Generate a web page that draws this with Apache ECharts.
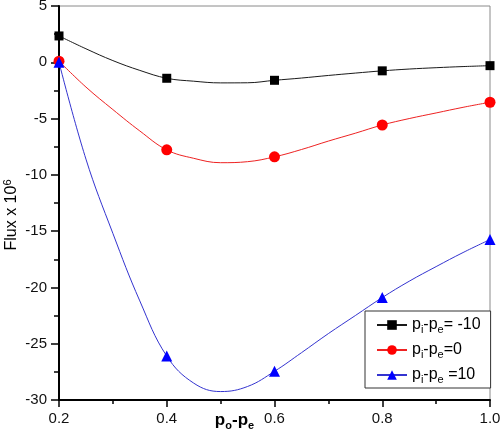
<!DOCTYPE html>
<html>
<head>
<meta charset="utf-8">
<script src="https://cdn.jsdelivr.net/npm/echarts@6/dist/echarts.min.js"></script>
<style>html,body{margin:0;padding:0;background:#fff}#c{width:500px;height:431px}</style>
</head>
<body>
<div id="c"></div>
<script>
// x positions (markers sit at 0.2, 0.4, 0.6, 0.8, 1.0)
var xValues = [0.2, 0.25, 0.3, 0.35, 0.4, 0.45, 0.5, 0.55, 0.6, 0.65, 0.7, 0.75, 0.8, 0.85, 0.9, 0.95, 1.0];
var markerX = [0.2, 0.4, 0.6, 0.8, 1.0];
// Flux x 10^6
var fluxMinus10 = [2.34, 1.2, 0.15, -0.72, -1.42, -1.68, -1.83, -1.82, -1.6, -1.4, -1.17, -0.96, -0.76, -0.6, -0.48, -0.38, -0.3];
var fluxZero    = [0.1, -2.2, -4.2, -6.1, -7.78, -8.53, -8.92, -8.83, -8.4, -7.75, -7.0, -6.3, -5.57, -5.0, -4.5, -4.0, -3.55];
var fluxPlus10  = [0.0, -8.6, -15.2, -21.2, -26.1, -28.5, -29.25, -28.8, -27.45, -25.8, -24.1, -22.5, -20.9, -19.45, -18.15, -16.9, -15.75];
var seriesNames = ['{t|p}{s|i}{t|-p}{s|e}{t|= -10}', '{t|p}{s|i}{t|-p}{s|e}{t|=0}', '{t|p}{s|i}{t|-p}{s|e}{t| =10}'];
var yTicks = [5, 0, -5, -10, -15, -20, -25, -30];
var xTicks = [0.2, 0.4, 0.6, 0.8, 1.0];

var FONT = 'Arial, "Liberation Sans", sans-serif';
function build(vals) {
  return xValues.map(function (x, i) {
    var isMarker = markerX.some(function (m) { return Math.abs(m - x) < 1e-9; });
    var item = { value: [x, vals[i]] };
    if (!isMarker) item.symbol = 'none';
    return item;
  });
}
var styles = [
  { line: '#1a1a1a', mark: '#000000', symbol: 'rect', size: 9 },
  { line: '#ee2222', mark: '#ff0000', symbol: 'circle', size: 11 },
  { line: '#3434d0', mark: '#0000ff', symbol: 'triangle', size: 11 }
];
var datasets = [fluxMinus10, fluxZero, fluxPlus10];
var series = datasets.map(function (d, k) {
  return {
    name: seriesNames[k],
    type: 'line',
    data: build(d),
    smooth: 0.4,
    symbol: styles[k].symbol,
    symbolSize: styles[k].size,
    showAllSymbol: true,
    lineStyle: { color: styles[k].line, width: 1 },
    itemStyle: { color: styles[k].mark },
    emphasis: { disabled: true },
    z: 3 + k
  };
});

var chart = echarts.init(document.getElementById('c'), null, { renderer: 'canvas' });
chart.setOption({
  animation: false,
  backgroundColor: '#fff',
  grid: { left: 59, right: 10, top: 6, bottom: 31, containLabel: false, outerBoundsMode: 'none',
          show: true, borderColor: '#8a8a8a', borderWidth: 1 },
  xAxis: {
    type: 'value', min: 0.2, max: 1.0, interval: 0.2,
    name: '{b|p}{s|o}{b|-p}{s|e}',
    nameLocation: 'middle', nameGap: 9, nameMoveOverlap: false,
    nameTextStyle: {
      padding: [0, 80, 0, 0],
      rich: {
        b: { fontFamily: FONT, fontWeight: 'bold', fontSize: 17, color: '#000', lineHeight: 22 },
        s: { fontFamily: FONT, fontWeight: 'bold', fontSize: 11, color: '#000', lineHeight: 11, verticalAlign: 'bottom' }
      }
    },
    axisLine: { show: true, onZero: false, lineStyle: { color: '#000', width: 2 } },
    axisTick: { show: true, inside: false, length: 7, lineStyle: { color: '#000', width: 1.5 } },
    minorTick: { show: true, splitNumber: 2, length: 4, lineStyle: { color: '#000', width: 1.5 } },
    splitLine: { show: false },
    axisLabel: {
      margin: 11, fontFamily: FONT, fontSize: 15, color: '#111',
      formatter: function (v) { return xTicks.some(function (t) { return Math.abs(t - v) < 1e-9; }) ? v.toFixed(1) : ''; }
    }
  },
  yAxis: {
    type: 'value', min: -30, max: 5, interval: 5,
    name: '{n|Flux x 10}{p|6}',
    nameLocation: 'middle', nameGap: 37, nameRotate: 90, nameMoveOverlap: false,
    nameTextStyle: {
      padding: [0, 24, 0, 0],
      rich: {
        n: { fontFamily: FONT, fontSize: 16, color: '#000', lineHeight: 20 },
        p: { fontFamily: FONT, fontSize: 11, color: '#000', lineHeight: 10, verticalAlign: 'top' }
      }
    },
    axisLine: { show: true, onZero: false, lineStyle: { color: '#000', width: 2 } },
    axisTick: { show: true, inside: false, length: 8, lineStyle: { color: '#000', width: 1.5 } },
    minorTick: { show: true, splitNumber: 2, length: 5, lineStyle: { color: '#000', width: 1.5 } },
    splitLine: { show: false },
    axisLabel: {
      margin: 12, fontFamily: FONT, fontSize: 15, color: '#111',
      formatter: function (v) { return yTicks.indexOf(v) >= 0 ? String(v) : ''; }
    }
  },
  legend: {
    orient: 'vertical', left: 365, top: 311,
    padding: [6, 10, 3, 11],
    itemWidth: 30, itemHeight: 12, itemGap: 7,
    backgroundColor: '#fff', borderColor: '#333', borderWidth: 1,
    selectedMode: false,
    data: seriesNames,
    textStyle: {
      rich: {
        t: { fontFamily: FONT, fontSize: 16, color: '#000', lineHeight: 20 },
        s: { fontFamily: FONT, fontSize: 11, color: '#000', lineHeight: 10, verticalAlign: 'bottom' }
      }
    }
  },
  series: series
});
</script>
</body>
</html>
